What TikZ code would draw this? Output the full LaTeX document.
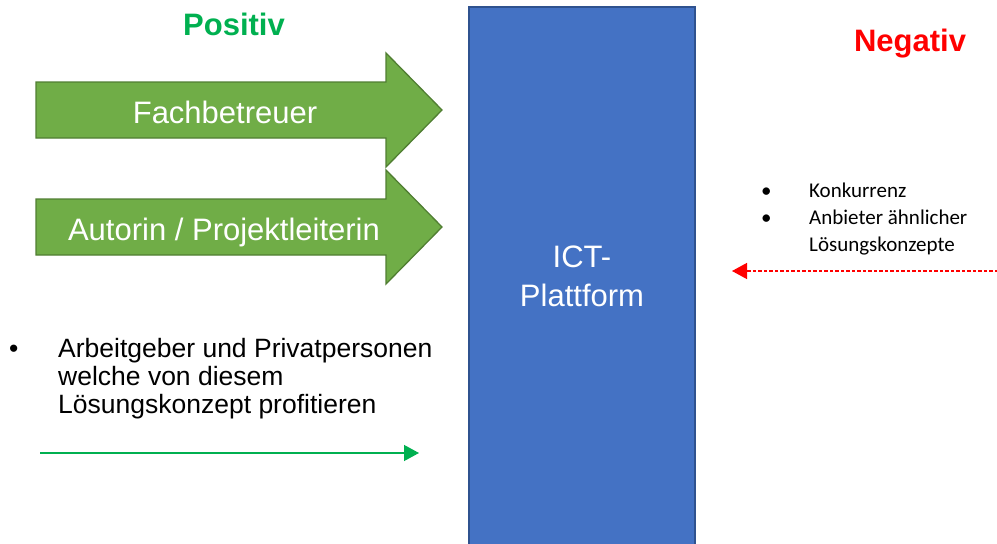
\documentclass[tikz,border=0pt]{standalone}
\usepackage{fontspec}
\setmainfont{Liberation Sans}
\newfontfamily\calibrifont{Carlito}
\usetikzlibrary{arrows.meta}
\definecolor{arrowgreen}{HTML}{70AD47}
\definecolor{arrowedge}{HTML}{507E32}
\definecolor{platblue}{HTML}{4472C4}
\definecolor{platedge}{HTML}{2F528F}
\definecolor{posgreen}{HTML}{00B050}
\definecolor{negred}{HTML}{FF0000}
\tikzset{
  fatarrow/.style={fill=arrowgreen, draw=arrowedge, line width=1.3pt, line join=miter},
  arrowlabel/.style={text=white, font=\fontsize{31}{36}\selectfont, inner sep=0pt, anchor=base},
  heading/.style={font=\fontsize{31}{36}\selectfont\bfseries, inner sep=0pt, anchor=base},
  leftlist/.style={font=\fontsize{26.5}{28}\selectfont, inner sep=0pt, anchor=base west},
  rightlist/.style={font=\calibrifont\fontsize{21}{26}\selectfont, inner sep=0pt, anchor=base west},
}
\begin{document}
\begin{tikzpicture}[x=1pt,y=-1pt]
\useasboundingbox (0,0) rectangle (997,544);
\clip (0,0) rectangle (997,544);

% headings
\node[heading, text=posgreen] (pos) at (234,35) {Positiv};
\node[heading, text=negred] (neg) at (910,51) {Negativ};

% central platform block
\path[fill=platblue, draw=platedge, line width=1.5pt] (469,7) rectangle (695,560);
\node[font=\fontsize{31}{40}\selectfont, text=white, inner sep=0pt, anchor=base] (ict) at (582,267) {ICT-};
\node[font=\fontsize{31}{40}\selectfont, text=white, inner sep=0pt, anchor=base] (plat) at (582,306) {Plattform};

% broad arrows pointing at the platform
\draw[fatarrow] (36,82) -- (386,82) -- (386,53) -- (442,110) -- (386,167) -- (386,138) -- (36,138) -- cycle;
\node[arrowlabel] (fach) at (225,123) {Fachbetreuer};
\draw[fatarrow] (36,199) -- (386,199) -- (386,170) -- (442,227) -- (386,284) -- (386,255) -- (36,255) -- cycle;
\node[arrowlabel] (autor) at (224,240) {Autorin / Projektleiterin};

% positive side list
\node[leftlist] (lb) at (9,357) {\textbullet};
\node[leftlist] (l1) at (58,357) {Arbeitgeber und Privatpersonen};
\node[leftlist] (l2) at (58,385) {welche von diesem};
\node[leftlist] (l3) at (58,413) {Lösungskonzept profitieren};
\coordinate (gstart) at (40,453);
\coordinate (gend) at (419,453);
\draw[posgreen, line width=1.3pt, -{Triangle[length=15pt,width=16pt]}] (gstart) -- (gend);

% negative side list
\node[rightlist] (rb1) at (761,197) {\textbullet};
\node[rightlist] (r1) at (809,197) {Konkurrenz};
\node[rightlist] (rb2) at (761,224) {\textbullet};
\node[rightlist] (r2) at (809,224) {Anbieter ähnlicher};
\node[rightlist] (r3) at (809,251) {Lösungskonzepte};
\coordinate (rstart) at (998,271);
\coordinate (rend) at (732,271);
\draw[negred, line width=1.4pt, dash pattern=on 3.5pt off 2pt, -{Triangle[length=15pt,width=16pt]}] (rstart) -- (rend);
\end{tikzpicture}
\end{document}
